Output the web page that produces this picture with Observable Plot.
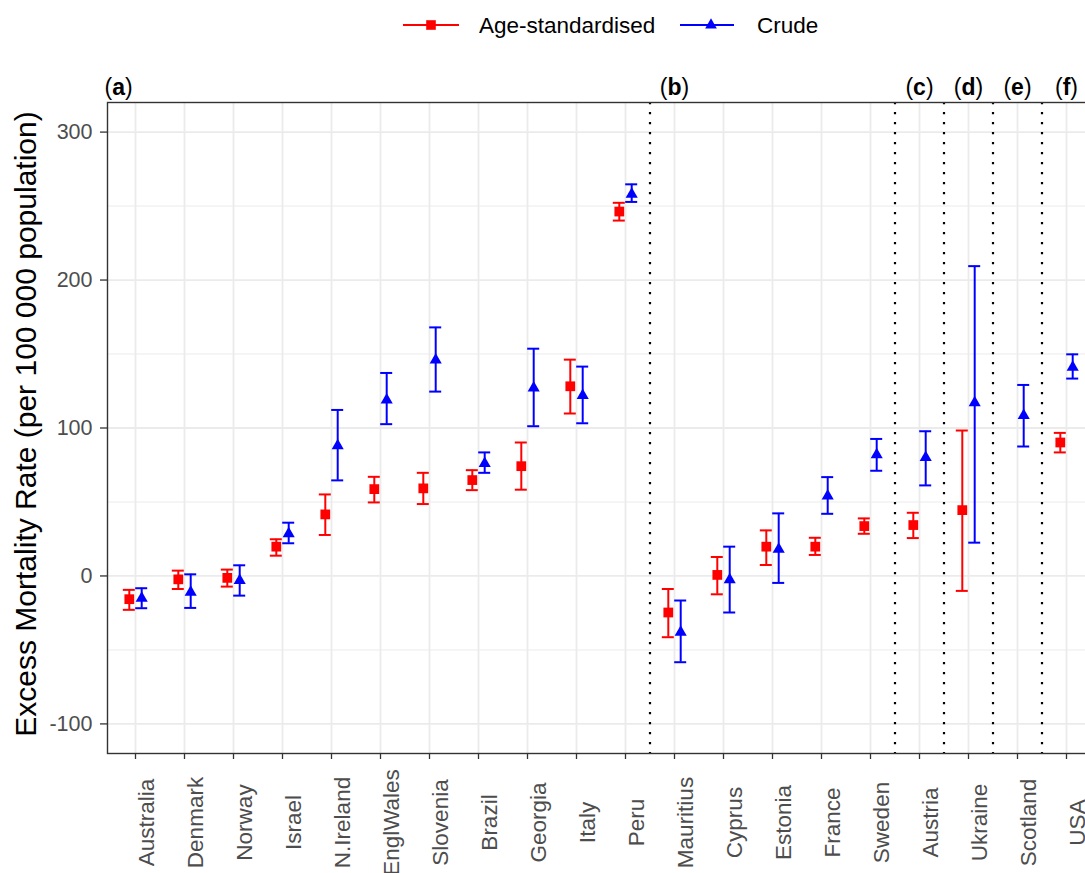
<!DOCTYPE html>
<html>
<head>
<meta charset="utf-8">
<script src="https://cdn.jsdelivr.net/npm/d3@7"></script>
<script src="https://cdn.jsdelivr.net/npm/@observablehq/plot@0.6"></script>
<style>
html, body { margin: 0; padding: 0; background: #fff; overflow: hidden; width: 1085px; height: 873px; }
body { font-family: "Liberation Sans", Arial, sans-serif; }
#legend { position: relative; height: 55px; width: 1085px; }
#legend .t { position: absolute; top: 15px; font-size: 22.5px; line-height: 1; color: #000; white-space: nowrap; }
#legend svg { position: absolute; top: 15px; }
#chart { width: 1085px; overflow: hidden; }
#chart svg { display: block; }
</style>
</head>
<body>
<div id="legend">
  <svg width="56" height="20" style="left:403px"><line x1="0" x2="56" y1="10" y2="10" stroke="#FF0000" stroke-width="2"/><rect x="23.2" y="5.2" width="9.6" height="9.6" fill="#FF0000"/></svg>
  <div class="t" style="left:479px">Age-standardised</div>
  <svg width="54" height="20" style="left:680px"><line x1="0" x2="54" y1="10" y2="10" stroke="#0000FF" stroke-width="2"/><path d="M31,3.3L36.85,13.4L25.15,13.4Z" fill="#0000FF"/></svg>
  <div class="t" style="left:757px">Crude</div>
</div>
<div id="chart"></div>
<script>
// ---- data ----
const countries = ["Australia","Denmark","Norway","Israel","N.Ireland","EnglWales","Slovenia","Brazil","Georgia","Italy","Peru","Mauritius","Cyprus","Estonia","France","Sweden","Austria","Ukraine","Scotland","USA"];

// Age-standardised excess mortality (estimate, lower, upper)
const ageEst = [-15.7, -2.3, -1.3, 19.8, 41.6, 58.7, 59.2, 64.8, 74.2, 128.2, 246.3, -24.7, 0.7, 19.8, 19.8, 33.7, 34.4, 44.5, null, 90.2];
const ageLo  = [-22.9, -8.8, -7.2, 13.7, 27.7, 49.7, 48.6, 58.0, 58.3, 109.8, 240.2, -41.4, -12.4, 7.4, 14.2, 28.5, 25.6, -10.1, null, 83.5];
const ageHi  = [-9.4, 3.6, 4.3, 24.8, 55.1, 67.0, 69.7, 71.5, 90.2, 146.2, 252.2, -8.8, 12.8, 30.8, 25.8, 38.9, 42.7, 98.3, null, 96.7];

// Crude excess mortality (estimate, lower, upper)
const crudeEst = [-15.0, -11.0, -3.0, 28.5, 88.0, 119.0, 146.0, 76.0, 127.0, 122.0, 258.0, -38.0, -2.5, 18.0, 54.0, 82.0, 80.0, 117.0, 108.5, 141.0];
const crudeLo  = [-21.8, -21.6, -13.3, 22.1, 64.6, 102.6, 124.6, 69.7, 101.2, 103.2, 252.8, -58.3, -24.7, -4.7, 42.0, 71.1, 61.2, 22.5, 87.5, 133.4];
const crudeHi  = [-8.3, 1.1, 7.2, 36.0, 112.2, 137.2, 168.0, 83.5, 153.6, 141.5, 264.7, -16.6, 19.8, 42.3, 66.8, 92.6, 97.8, 209.4, 129.1, 149.8];

const yTicks = [-100, 0, 100, 200, 300];
const yMinor = [-50, 50, 150, 250];
const groupLabels = ["a", "b", "c", "d", "e", "f"];
const groupStart = ["Australia", "Mauritius", "Austria", "Ukraine", "Scotland", "USA"];
const yTitle = "Excess Mortality Rate (per 100 000 population)";

// ---- build tables ----
const rows = countries.map((c, i) => ({
  country: c,
  ageEst: ageEst[i], ageLo: ageLo[i], ageHi: ageHi[i],
  crudeEst: crudeEst[i], crudeLo: crudeLo[i], crudeHi: crudeHi[i]
}));
const ageRows = rows.filter(d => d.ageEst != null);
const crudeRows = rows.filter(d => d.crudeEst != null);
const laterGroups = groupStart.slice(1).map((s, i) => ({start: s, label: groupLabels[i + 1]}));

const RED = "#FF0000", BLUE = "#0000FF";
const DODGE = 6.2;
const FONT = '"Liberation Sans", Arial, sans-serif';

const plot = Plot.plot({
  width: 1085,
  height: 818,
  marginLeft: 107,
  marginRight: -10,
  marginTop: 47,
  marginBottom: 120,
  style: {fontFamily: FONT, background: "#fff"},
  x: {type: "band", domain: countries, paddingInner: 0.755, paddingOuter: 0.459, align: 0.5},
  y: {domain: [-120, 320]},
  marks: [
    // grid
    Plot.ruleY(yMinor, {y: d => d, stroke: "#F2F2F2", strokeWidth: 1.4}),
    Plot.ruleY(yTicks, {y: d => d, stroke: "#EBEBEB", strokeWidth: 1.8}),
    Plot.ruleX(countries, {x: d => d, stroke: "#EBEBEB", strokeWidth: 1.8}),
    // group separators
    Plot.ruleX(laterGroups, {x: "start", dx: -24.5, stroke: "#000", strokeWidth: 2.2, strokeDasharray: "2.2,7.8"}),
    // axes
    Plot.axisY({ticks: yTicks, tickSize: 7, tickPadding: 8, fontSize: 21.5, tickFormat: d => String(d), label: null, stroke: "#333", fill: "#4D4D4D", strokeWidth: 1.3}),
    Plot.axisX({tickSize: 6, tickFormat: null, label: null, stroke: "#333", strokeWidth: 1.3}),
    Plot.text(countries, {x: d => d, text: d => d, frameAnchor: "bottom", rotate: -90, textAnchor: "middle", lineAnchor: "top", dx: 3, dy: 69, fontSize: 22.5, fill: "#4D4D4D"}),
    Plot.text([yTitle], {text: d => d, frameAnchor: "left", rotate: -90, textAnchor: "middle", lineAnchor: "middle", dx: -81.5, dy: -4, fontSize: 30, fill: "#000"}),
    // panel labels
    Plot.text([groupLabels[0]], {text: d => d, frameAnchor: "top-left", textAnchor: "start", lineAnchor: "bottom", dx: -3, dy: -8, fontSize: 23, fill: "#000"}),
    Plot.text(laterGroups, {x: "start", text: "label", frameAnchor: "top", textAnchor: "middle", lineAnchor: "bottom", dy: -8, fontSize: 23, fill: "#000"}),
    // age-standardised
    Plot.ruleX(ageRows, {x: "country", y1: "ageLo", y2: "ageHi", dx: -DODGE, stroke: RED, strokeWidth: 2}),
    Plot.tickY(ageRows, {x: "country", y: "ageLo", dx: -DODGE, stroke: RED, strokeWidth: 2}),
    Plot.tickY(ageRows, {x: "country", y: "ageHi", dx: -DODGE, stroke: RED, strokeWidth: 2}),
    Plot.dot(ageRows, {x: "country", y: "ageEst", dx: -DODGE, symbol: "square", r: 5.5, fill: RED, stroke: null}),
    // crude
    Plot.ruleX(crudeRows, {x: "country", y1: "crudeLo", y2: "crudeHi", dx: DODGE, stroke: BLUE, strokeWidth: 2}),
    Plot.tickY(crudeRows, {x: "country", y: "crudeLo", dx: DODGE, stroke: BLUE, strokeWidth: 2}),
    Plot.tickY(crudeRows, {x: "country", y: "crudeHi", dx: DODGE, stroke: BLUE, strokeWidth: 2}),
    Plot.dot(crudeRows, {x: "country", y: "crudeEst", dx: DODGE, symbol: "triangle", r: 4.5, fill: BLUE, stroke: null}),
    // panel border
    Plot.frame({stroke: "#333", strokeWidth: 1.4})
  ]
});

// bold letter inside parentheses for panel labels
const SVGNS = "http://www.w3.org/2000/svg";
plot.querySelectorAll("text").forEach(t => {
  const s = t.textContent;
  if (groupLabels.includes(s)) {
    t.textContent = "";
    t.append("(");
    const ts = document.createElementNS(SVGNS, "tspan");
    ts.setAttribute("font-weight", "bold");
    ts.textContent = s;
    t.append(ts);
    t.append(")");
  }
});

document.getElementById("chart").append(plot);
</script>
</body>
</html>
